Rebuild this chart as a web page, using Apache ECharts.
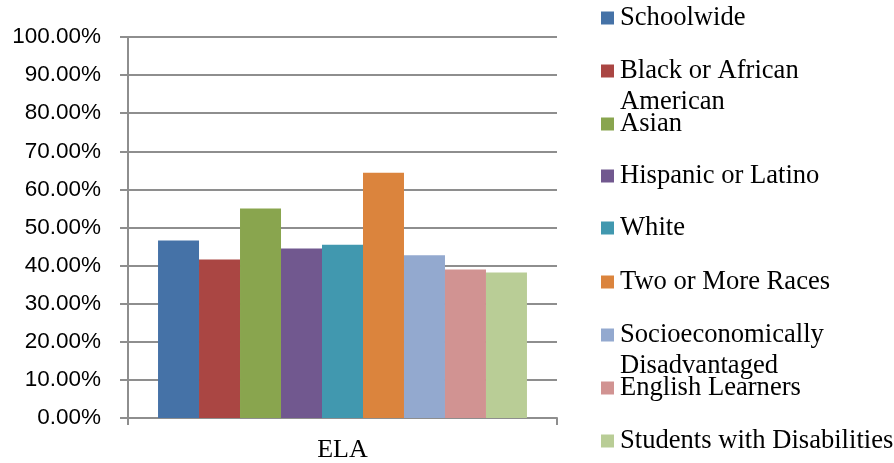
<!DOCTYPE html>
<html>
<head>
<meta charset="utf-8">
<script src="https://cdn.jsdelivr.net/npm/echarts@6/dist/echarts.min.js"></script>
<style>
  html, body { margin: 0; padding: 0; background: #fff; }
  #chart { width: 894px; height: 463px; }
</style>
</head>
<body>
<div id="chart"></div>
<script>
// Subject on the category axis
const categories = ['ELA'];

// Student groups (legend labels; "\n" marks where the label wraps)
const groupNames = [
  'Schoolwide',
  'Black or African American',
  'Asian',
  'Hispanic or Latino',
  'White',
  'Two or More Races',
  'Socioeconomically Disadvantaged',
  'English Learners',
  'Students with Disabilities'
];
const groupLabels = [
  'Schoolwide',
  'Black or African\nAmerican',
  'Asian',
  'Hispanic or Latino',
  'White',
  'Two or More Races',
  'Socioeconomically\nDisadvantaged',
  'English Learners',
  'Students with Disabilities'
];

// Percent meeting/exceeding standard, one value per group
const groupValues = [46.6, 41.6, 55.0, 44.5, 45.5, 64.4, 42.7, 39.0, 38.2];

// Value-axis settings
const yMin = 0;
const yMax = 100;
const yStep = 10;

const palette = ['#4572A7', '#AA4643', '#89A54E', '#71588F', '#4198AF',
                 '#DB843D', '#93A9CF', '#D19392', '#B9CD96'];

const axisGray = '#8e8e8e';
const serif = '"Liberation Serif", "Times New Roman", serif';
const lineH = 31;

const series = groupNames.map((name, i) => ({
  name: name,
  type: 'bar',
  data: [groupValues[i]],
  itemStyle: { color: palette[i] },
  barGap: '0%',
  barCategoryGap: '14%'
}));

// One legend block per group so that wrapped labels do not push the next entry down.
// Vertical centre of each legend swatch:
const swatchCenters = [18, 71, 124, 176, 228, 282, 335, 388, 441];
const legends = groupNames.map((name, i) => {
  const wrapped = groupLabels[i].indexOf('\n') >= 0;
  // a blank leading line keeps the first text line level with the swatch
  const text = wrapped ? ' \n' + groupLabels[i] : groupLabels[i];
  const boxH = wrapped ? lineH * 3 : lineH;
  return {
    orient: 'vertical',
    left: 601,
    top: swatchCenters[i] - boxH / 2,
    itemWidth: 13,
    itemHeight: 13,
    icon: 'rect',
    padding: 0,
    data: [name],
    formatter: () => text,
    textStyle: {
      fontFamily: serif,
      fontSize: 26.6,
      color: '#000',
      lineHeight: lineH,
      padding: [0, 0, 0, 1]
    }
  };
});

const chart = echarts.init(document.getElementById('chart'), null, { renderer: 'canvas' });
chart.setOption({
  animation: false,
  backgroundColor: '#fff',
  grid: { left: 128, right: 337, top: 37, bottom: 44, containLabel: false },
  legend: legends,
  xAxis: {
    type: 'category',
    data: categories,
    boundaryGap: true,
    axisLine: { lineStyle: { color: axisGray, width: 2 } },
    axisTick: { show: true, length: 7, alignWithLabel: false, lineStyle: { color: axisGray, width: 2 } },
    axisLabel: {
      margin: 19,
      fontFamily: serif,
      fontSize: 26,
      color: '#000'
    },
    splitLine: { show: false }
  },
  yAxis: {
    type: 'value',
    min: yMin,
    max: yMax,
    interval: yStep,
    axisLine: { show: true, lineStyle: { color: axisGray, width: 2 } },
    axisTick: { show: true, length: 8, lineStyle: { color: axisGray, width: 2 } },
    axisLabel: {
      margin: 27,
      fontFamily: '"Liberation Sans", Arial, sans-serif',
      fontSize: 22.5,
      color: '#000',
      formatter: v => v.toFixed(2) + '%'
    },
    splitLine: { show: true, lineStyle: { color: axisGray, width: 2 } }
  },
  series: series
});
</script>
</body>
</html>
